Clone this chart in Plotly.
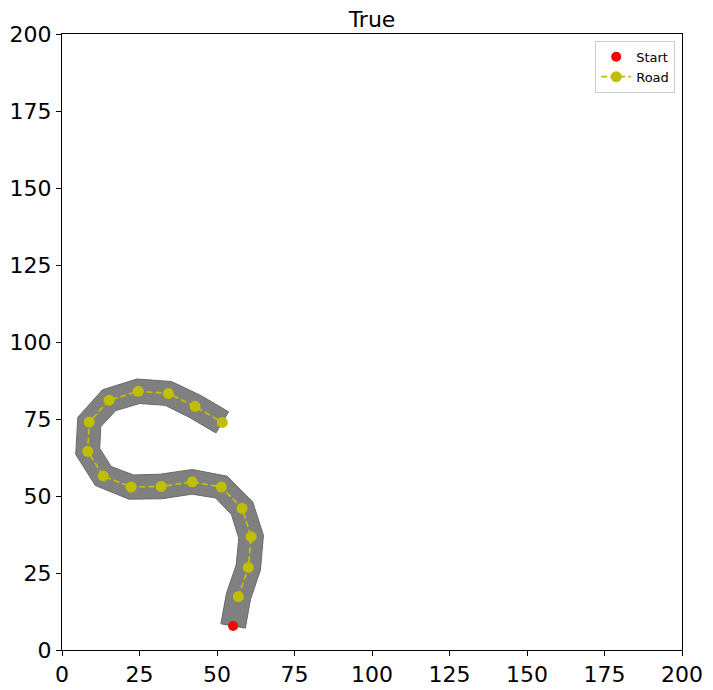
import numpy as np
import plotly.graph_objects as go

# Data
start_x = [55.2]
start_y = [7.8]
road_x = [56.9, 60.1, 61.0, 58.1, 51.4, 42.0, 32.0, 22.3, 13.3, 8.3, 8.8, 15.2, 24.6, 34.3, 42.9, 51.7]
road_y = [17.3, 26.8, 36.8, 46.0, 52.9, 54.6, 53.1, 52.9, 56.5, 64.5, 74.0, 81.1, 84.0, 83.3, 79.1, 73.9]
road_half_width = 4.0
tick_vals = [0, 25, 50, 75, 100, 125, 150, 175, 200]

# Road polygon from centerline (start + road points)
cx = np.array(start_x + road_x)
cy = np.array(start_y + road_y)
n = len(cx)
lx, ly, rx, ry = [], [], [], []
for i in range(n):
    a = max(i - 1, 0)
    b = min(i + 1, n - 1)
    tx, ty = cx[b] - cx[a], cy[b] - cy[a]
    L = np.hypot(tx, ty)
    nx, ny = -ty / L, tx / L
    lx.append(cx[i] + road_half_width * nx)
    ly.append(cy[i] + road_half_width * ny)
    rx.append(cx[i] - road_half_width * nx)
    ry.append(cy[i] - road_half_width * ny)
poly_x = lx + rx[::-1] + [lx[0]]
poly_y = ly + ry[::-1] + [ly[0]]

fig = go.Figure()
fig.add_trace(go.Scatter(
    x=poly_x, y=poly_y, mode="lines", fill="toself",
    fillcolor="rgb(128,128,128)", line=dict(color="rgb(105,105,105)", width=1),
    showlegend=False, hoverinfo="skip"))
fig.add_trace(go.Scatter(
    x=start_x, y=start_y, mode="markers", name="Start",
    marker=dict(color="#ff0000", size=10)))
fig.add_trace(go.Scatter(
    x=road_x, y=road_y, mode="lines+markers", name="Road",
    line=dict(color="#bfbf00", width=1.8, dash="6px,3px"),
    marker=dict(color="#bfbf00", size=11)))

axis_common = dict(
    range=[0, 200], tickvals=tick_vals, ticks="outside", ticklen=5, tickwidth=1,
    tickcolor="black", showline=True, linecolor="black", linewidth=1, mirror=True,
    showgrid=False, zeroline=False, automargin=False,
    tickfont=dict(size=22, color="black"))

fig.update_layout(
    width=713, height=690,
    margin=dict(l=62, r=31, t=34, b=40, autoexpand=False),
    paper_bgcolor="white", plot_bgcolor="white",
    font=dict(family="DejaVu Sans", color="black"),
    title=dict(text="True", x=0.5, xref="paper", xanchor="center",
               y=1 - 19 / 690, yref="container", yanchor="middle",
               automargin=False,
               font=dict(size=22, color="black")),
    xaxis=axis_common,
    yaxis=axis_common,
    legend=dict(x=0.989, y=0.989, xanchor="right", yanchor="top",
                bordercolor="#cccccc", borderwidth=1, bgcolor="white",
                tracegroupgap=0, itemsizing="trace",
                font=dict(size=13, color="black")),
    showlegend=True,
)

fig.write_html("out.html", config={"displayModeBar": False},
               post_script="document.body.style.margin='0';")
